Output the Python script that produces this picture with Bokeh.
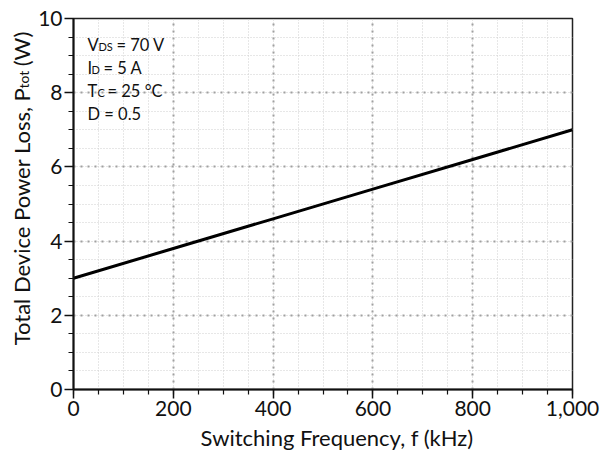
from bokeh.plotting import figure
from bokeh.layouts import row
from bokeh.models import Range1d, SingleIntervalTicker, NumeralTickFormatter, Label
from bokeh.core.properties import value
from bokeh.embed import file_html
from bokeh.resources import INLINE
import math

# data
freq_khz = [0, 200, 400, 600, 800, 1000]
p_tot_w = [3.0, 3.8, 4.6, 5.4, 6.2, 7.0]

x_label = "Switching Frequency, f (kHz)"
y_label_main = "Total Device Power Loss, P"
y_label_sub = "tot"
y_label_tail = "(W)"

cond_main = ["V", "I", "T", "D = 0.5"]
cond_sub = ["DS", "D", "C", ""]
cond_tail = ["= 70 V", "= 5 A", "= 25 °C", ""]

FONT = "Lato"
INK = "#111111"
H = 466
LW = 35  # width of the y-label strip

# ---- y-axis title strip (rotated text with subscript) ----
pl = figure(width=LW, height=H, output_backend="svg", toolbar_location=None,
            x_range=Range1d(0, LW), y_range=Range1d(0, H), min_border=0)
pl.axis.visible = False
pl.grid.visible = False
pl.outline_line_color = None
rot = math.pi / 2
pl.text(x=[21], y=[H - 87], text=[y_label_main], angle=rot, text_align="right",
        text_baseline="alphabetic", text_font=value(FONT), text_font_size="22px", text_color=INK)
pl.text(x=[23], y=[H - 88], text=[y_label_sub], angle=rot, text_align="left",
        text_baseline="alphabetic", text_font=value(FONT), text_font_size="14px", text_color=INK)
pl.text(x=[21], y=[H - 60], text=[y_label_tail], angle=rot, text_align="left",
        text_baseline="alphabetic", text_font=value(FONT), text_font_size="22px", text_color=INK)

# ---- main plot ----
p = figure(width=600 - LW, height=H, output_backend="svg", toolbar_location=None,
           x_range=Range1d(0, 1000), y_range=Range1d(0, 10),
           min_border_left=73 - LW, min_border_right=28, min_border_top=18, min_border_bottom=H - 389)
p.background_fill_color = "white"
p.border_fill_color = "white"
p.outline_line_color = "#222222"
p.outline_line_width = 1.5

p.xaxis.ticker = SingleIntervalTicker(interval=200, num_minor_ticks=4)
p.yaxis.ticker = SingleIntervalTicker(interval=2, num_minor_ticks=4)
p.xaxis.formatter = NumeralTickFormatter(format="0,0")

for ax in (p.xaxis, p.yaxis):
    ax.axis_line_color = INK
    ax.axis_line_width = 2
    ax.major_tick_line_color = INK
    ax.minor_tick_line_color = INK
    ax.major_tick_line_width = 1.5
    ax.minor_tick_line_width = 1.2
    ax.major_tick_out = 9
    ax.major_tick_in = 0
    ax.minor_tick_out = 5
    ax.minor_tick_in = 0
    ax.major_label_text_font = FONT
    ax.major_label_text_font_size = "21px"
    ax.major_label_text_color = INK
    ax.major_label_standoff = 2

p.xaxis.axis_label = "\u00a0" * 5 + x_label
p.xaxis.axis_label_text_font = FONT
p.xaxis.axis_label_text_font_size = "22px"
p.xaxis.axis_label_text_font_style = "normal"
p.xaxis.axis_label_text_color = INK
p.xaxis.axis_label_standoff = 5

for g in (p.xgrid, p.ygrid):
    g.grid_line_color = "#a0a0a0"
    g.grid_line_width = 2
    g.grid_line_dash = "2 5"
    g.minor_grid_line_color = "#cfcfcf"
    g.minor_grid_line_width = 1
    g.minor_grid_line_dash = "1 2"

p.line(freq_khz, p_tot_w, line_color="black", line_width=3)

# condition annotations (frame-relative screen units)
baselines = [44, 67, 90, 113]
main_x = [87, 87, 87, 87]
sub_x = [98, 91, 97, 0]
tail_x = [116, 103, 107, 0]
for i in range(4):
    yb = 389 - baselines[i]
    p.add_layout(Label(x=main_x[i] - 73, y=yb, x_units="screen", y_units="screen",
                       text=cond_main[i], text_baseline="alphabetic",
                       text_font=FONT, text_font_size="16.5px", text_color=INK))
    if cond_sub[i]:
        p.add_layout(Label(x=sub_x[i] - 73, y=yb - 2, x_units="screen", y_units="screen",
                           text=cond_sub[i], text_baseline="alphabetic",
                           text_font=FONT, text_font_size="11px", text_color=INK))
    if cond_tail[i]:
        p.add_layout(Label(x=tail_x[i] - 73, y=yb, x_units="screen", y_units="screen",
                           text=cond_tail[i], text_baseline="alphabetic",
                           text_font=FONT, text_font_size="16.5px", text_color=INK))

layout = row(pl, p, spacing=0)
open("out.html", "w").write(file_html(layout, INLINE))
